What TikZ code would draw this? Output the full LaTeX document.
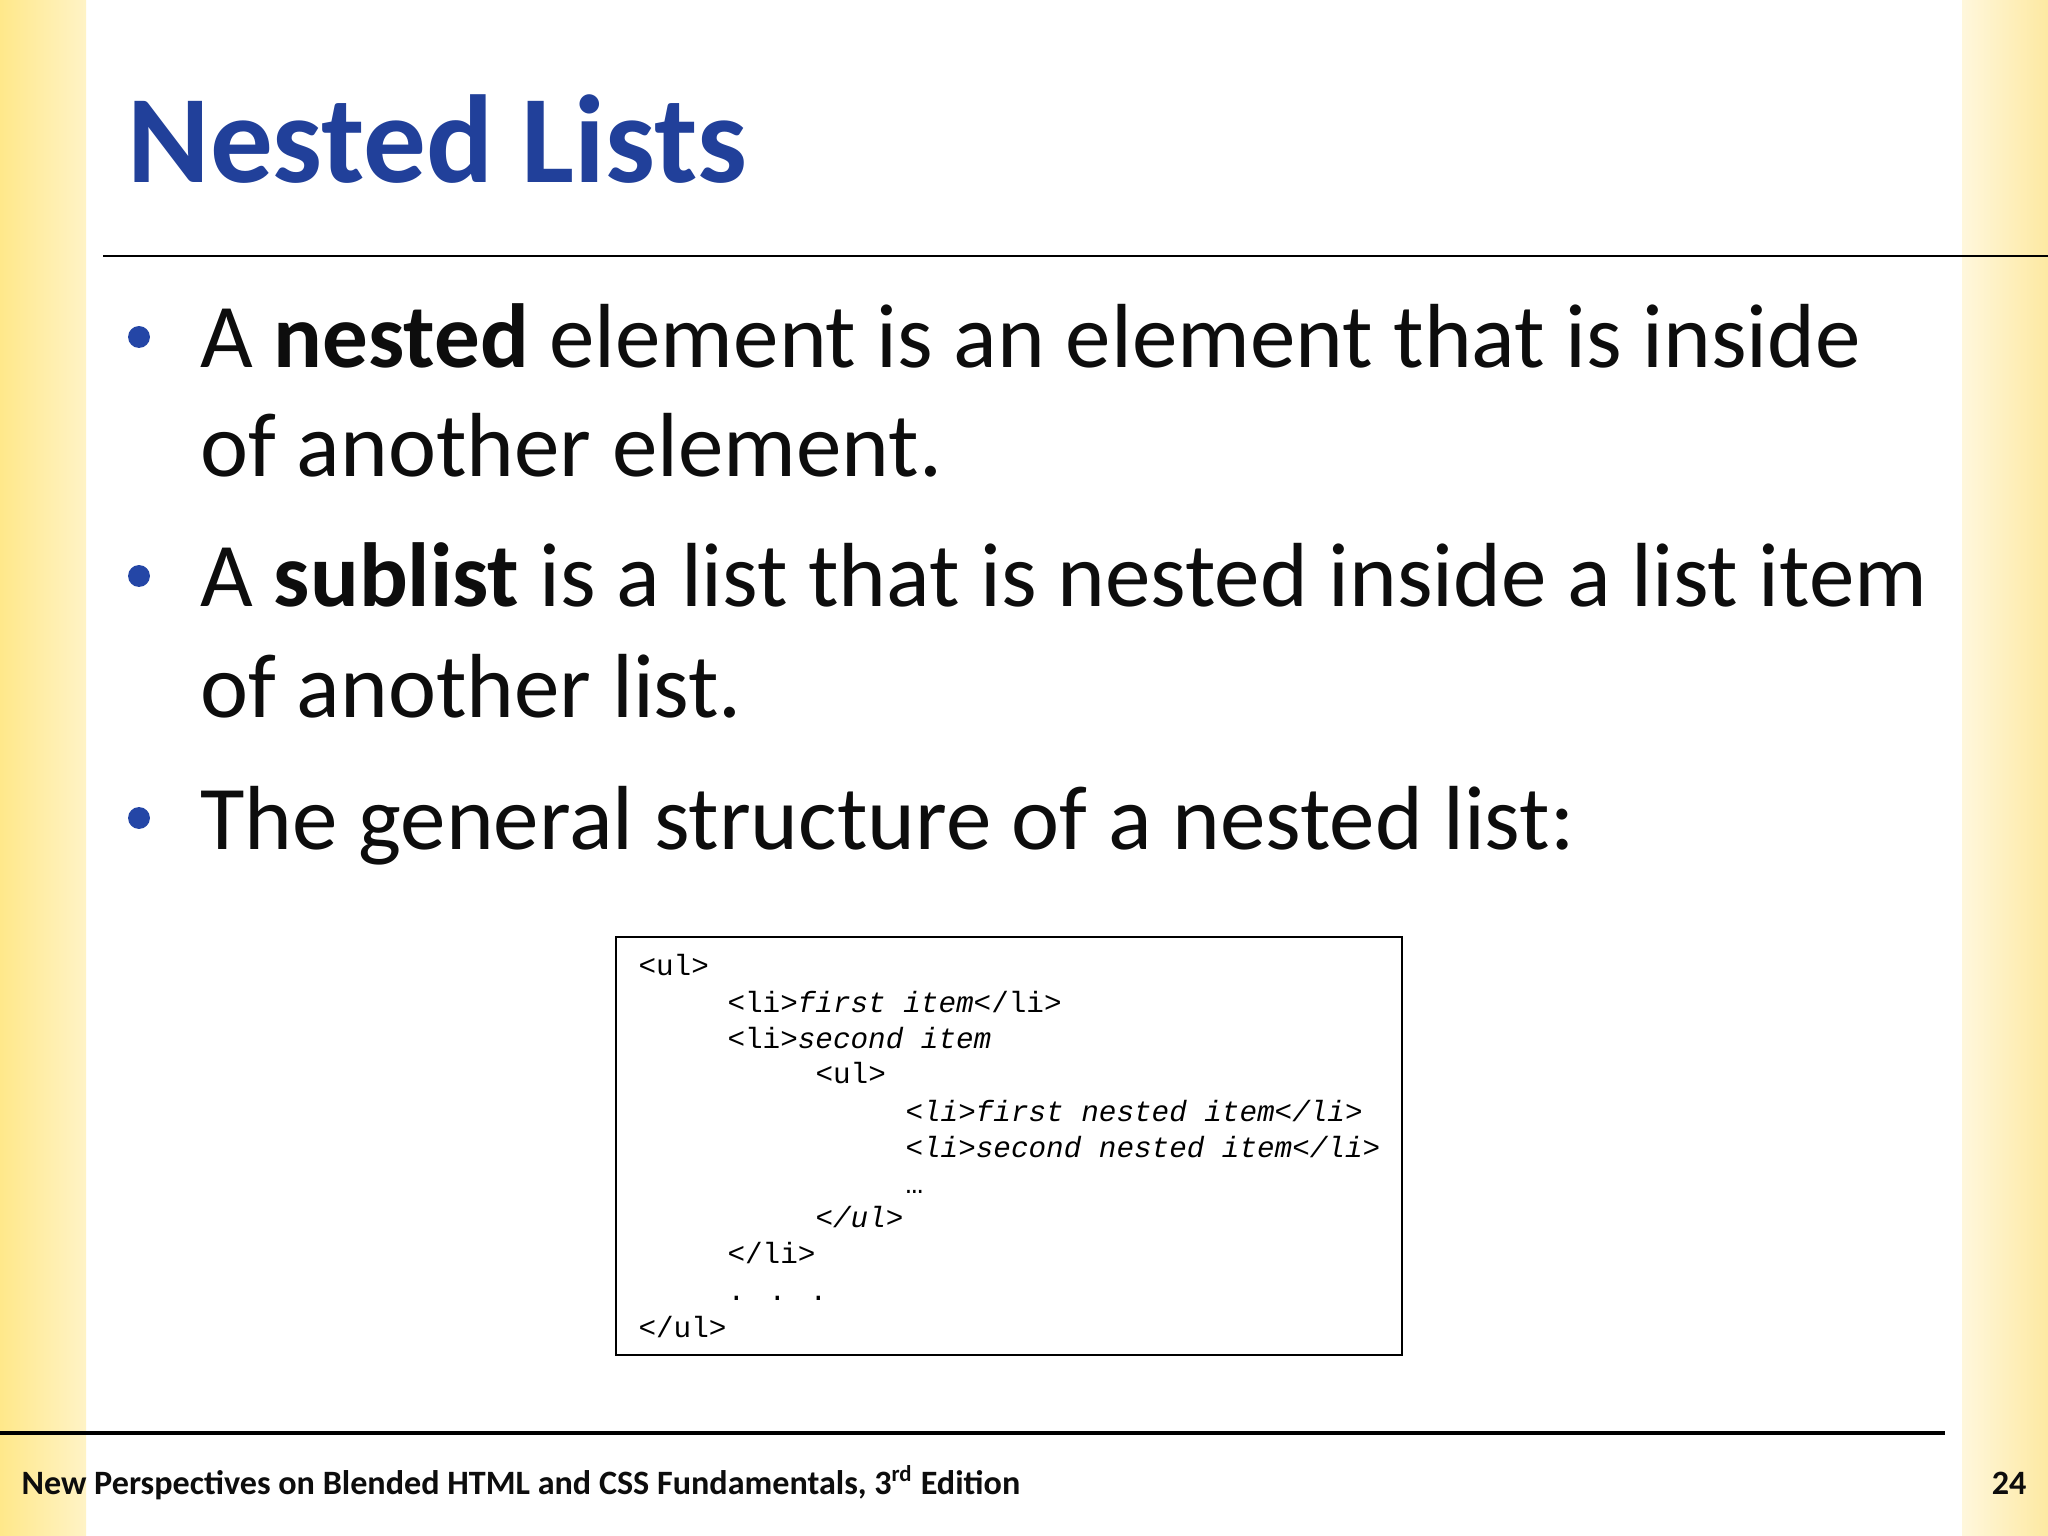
\documentclass[tikz,border=0pt]{standalone}
\usepackage{fontspec}
\setmainfont{Carlito}
\newfontfamily\codefont{Liberation Mono}
\usetikzlibrary{shadings}
\definecolor{titleblue}{HTML}{21409A}
\definecolor{bulletblue}{HTML}{2446A6}
\definecolor{bodyblack}{HTML}{0D0D0D}
\definecolor{bandyellow}{HTML}{FFE88A}
\definecolor{bandlight}{HTML}{FFF3C6}
\definecolor{bandpale}{HTML}{FFF7DC}
\definecolor{bandright}{HTML}{FDE9A2}
\tikzset{
  bodytext/.style={anchor=base west, inner sep=0pt, font=\fontsize{32}{38}\selectfont, text=bodyblack},
  codetext/.style={anchor=base west, inner sep=0pt, font=\codefont\fontsize{10.3}{12}\selectfont, text=black},
  bulletdot/.style={circle, fill=bulletblue, inner sep=0pt, minimum size=7.7pt},
  rulestyle/.style={line width=1.05pt, black},
  foottext/.style={inner sep=0pt, font=\bfseries\fontsize{12}{14}\selectfont, text=bodyblack},
}
\begin{document}
\begin{tikzpicture}[x=0.3515625pt, y=-0.3515625pt]
\useasboundingbox (0,0) rectangle (2048,1536);
\fill[white] (0,0) rectangle (2048,1536);
% side bands
\shade[left color=bandyellow, right color=bandlight] (0,0) rectangle (86,1536);
\shade[left color=bandpale, right color=bandright] (1962,0) rectangle (2048,1536);
% title
\node[anchor=base west, inner sep=0pt, font=\bfseries\fontsize{44}{50}\selectfont, text=titleblue] (title) at (127,183) {Nested Lists};
\coordinate (tl) at (103,256);
\coordinate (tr) at (2048,256);
\draw[rulestyle] (tl) -- (tr);
% bullets
\node[bulletdot] (b1) at (139,337) {};
\node[bodytext] (l1) at (200,368) {A \textbf{nested} element is an element that is inside};
\node[bodytext] (l2) at (200,477) {of another element.};
\node[bulletdot] (b2) at (139,576) {};
\node[bodytext] (l3) at (200,607) {A \textbf{sublist} is a list that is nested inside a list item};
\node[bodytext] (l4) at (200,717) {of another list.};
\node[bulletdot] (b3) at (139,818) {};
\node[bodytext] (l5) at (200,849) {The general structure of a nested list:};
% code box
\node[draw=black, line width=0.9pt, fill=white, minimum width=276.4pt, minimum height=147pt, inner sep=0pt] (box) at (1009,1146) {};
\node[codetext] (c1) at (638,975) {<ul>};
\node[codetext] (c2) at (727,1012) {<li>\itshape first item\upshape</li>};
\node[codetext] (c3) at (727,1048) {<li>\itshape second item};
\node[codetext] (c4) at (815,1083) {<ul>};
\node[codetext] (c5) at (905,1121) {\itshape <li>first nested item</li>};
\node[codetext] (c6) at (905,1157) {\itshape <li>second nested item</li>};
\node[codetext] (c7) at (905,1193) {…};
\node[codetext] (c8) at (815,1227) {\itshape </ul>};
\node[codetext] (c9) at (727,1263) {</li>};
\node[codetext] (c10) at (727,1300) {. . .};
\node[codetext] (c11) at (638,1337) {</ul>};
% footer
\coordinate (fl) at (0,1433);
\coordinate (fr) at (1945,1433);
\draw[rulestyle, line width=1.3pt] (fl) -- (fr);
\node[foottext, anchor=base west] (foot) at (21,1494) {New Perspectives on Blended HTML and CSS Fundamentals, 3\textsuperscript{rd} Edition};
\node[foottext, anchor=base east] (page) at (2027,1494) {24};
\end{tikzpicture}
\end{document}
